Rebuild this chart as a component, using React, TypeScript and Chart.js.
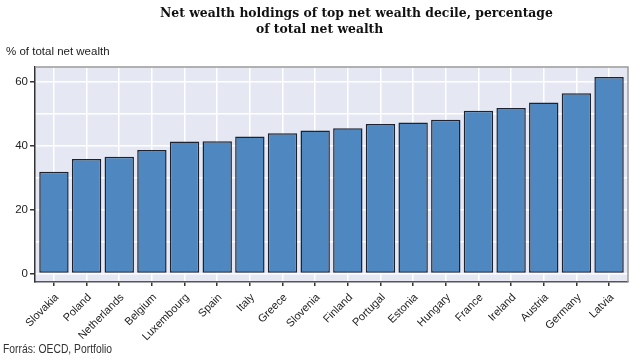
import React, { useEffect, useRef } from "react";
import { Chart, registerables } from "chart.js";

Chart.register(...registerables);

const countries = [
  "Slovakia", "Poland", "Netherlands", "Belgium", "Luxembourg", "Spain",
  "Italy", "Greece", "Slovenia", "Finland", "Portugal", "Estonia",
  "Hungary", "France", "Ireland", "Austria", "Germany", "Latvia",
];
const shares = [
  31.8, 35.8, 36.5, 38.6, 41.2, 41.3, 42.8, 43.8, 44.7,
  45.4, 46.7, 47.2, 48.0, 50.8, 51.7, 53.4, 56.3, 61.4,
];
const titleLines = [
  "Net wealth holdings of top net wealth decile, percentage",
  "of total net wealth",
];
const yAxisTitle = "% of total net wealth";
const sourceNote = "Forrás: OECD, Portfolio";
const yLabelStep = 20;

const W = 640;
const H = 361;

export default function App() {
  const ref = useRef<HTMLCanvasElement | null>(null);

  useEffect(() => {
    document.body.style.margin = "0";
    const canvas = ref.current;
    if (!canvas) return;

    const framePlugin = {
      id: "frame",
      beforeDraw(chart: any) {
        const { ctx, chartArea: a } = chart;
        ctx.save();
        ctx.fillStyle = "#ffffff";
        ctx.fillRect(0, 0, W, H);
        ctx.fillStyle = "#e5e8f2";
        ctx.fillRect(a.left, a.top, a.right - a.left, a.bottom - a.top);
        ctx.restore();
      },
      afterDraw(chart: any) {
        const { ctx, chartArea: a } = chart;
        ctx.save();
        ctx.strokeStyle = "#9a9a9a";
        ctx.lineWidth = 1.5;
        ctx.beginPath();
        ctx.moveTo(a.left, a.top);
        ctx.lineTo(a.right, a.top);
        ctx.lineTo(a.right, a.bottom);
        ctx.stroke();

        // Title: fit line 1 into its measured span in the reference
        ctx.fillStyle = "#111111";
        ctx.textAlign = "left";
        ctx.textBaseline = "alphabetic";
        const fam = "'DejaVu Serif', 'Liberation Serif', serif";
        ctx.font = `bold 14px ${fam}`;
        const w1 = ctx.measureText(titleLines[0]).width;
        const size = Math.min(16, (14 * 393) / w1);
        ctx.font = `bold ${size.toFixed(2)}px ${fam}`;
        ctx.fillText(titleLines[0], 160, 17);
        ctx.fillText(titleLines[1], 256, 33);

        ctx.fillStyle = "#222222";
        ctx.font = "11.5px 'Liberation Sans', Arial, sans-serif";
        ctx.fillText(yAxisTitle, 6, 55);

        ctx.fillStyle = "#333333";
        ctx.font = "12px 'Liberation Sans', Arial, sans-serif";
        ctx.translate(3, 353);
        ctx.scale(0.86, 1);
        ctx.fillText(sourceNote, 0, 0);
        ctx.restore();
      },
    };

    const chart = new Chart(canvas, {
      type: "bar",
      data: {
        datasets: [
          {
            data: shares.map((v, i) => ({ x: i, y: v })),
            backgroundColor: "#4f87c0",
            borderColor: "#1c2230",
            borderWidth: 1.5,
            borderSkipped: false,
            barPercentage: 0.9,
            categoryPercentage: 1,
          },
        ],
      },
      options: {
        responsive: false,
        animation: false,
        devicePixelRatio: 1,
        layout: { padding: { top: 67, right: 12, left: 0, bottom: 0 } },
        plugins: {
          legend: { display: false },
          tooltip: { enabled: false },
          title: { display: false },
        },
        scales: {
          x: {
            type: "linear",
            offset: false,
            min: -0.58,
            max: 17.58,
            afterFit(scale: any) {
              scale.height = 79;
            },
            ticks: {
              stepSize: 1,
              includeBounds: false,
              autoSkip: false,
              maxRotation: 45,
              minRotation: 45,
              padding: 5,
              labelOffset: 3,
              color: "#222222",
              font: { size: 11, family: "'Liberation Sans', Arial, sans-serif" },
              callback: (v: any) => {
                const n = Number(v);
                return Number.isInteger(n) && countries[n] ? countries[n] : "";
              },
            },
            grid: {
              offset: false,
              color: "#ffffff",
              lineWidth: 1.5,
              tickColor: "#333333",
              tickLength: 4,
              drawTicks: true,
            },
            border: { display: true, color: "#555555", width: 1.5 },
          },
          y: {
            min: -2.66,
            max: 64.5,
            afterFit(scale: any) {
              scale.width = 35;
            },
            ticks: {
              stepSize: 10,
              includeBounds: false,
              padding: 2,
              color: "#222222",
              font: { size: 11.5, family: "'Liberation Sans', Arial, sans-serif" },
              callback: (v: any) => (Number(v) % yLabelStep === 0 ? String(v) : ""),
            },
            grid: {
              color: "#ffffff",
              lineWidth: 1.5,
              tickLength: 5,
              tickColor: (c: any) =>
                c.tick && c.tick.value % yLabelStep === 0 ? "#333333" : "rgba(0,0,0,0)",
            },
            border: { display: true, color: "#333333", width: 1.5 },
          },
        },
      },
      plugins: [framePlugin],
    });

    return () => chart.destroy();
  }, []);

  return (
    <div style={{ width: W, height: H }}>
      <canvas ref={ref} width={W} height={H} style={{ display: "block", width: W, height: H }} />
    </div>
  );
}
